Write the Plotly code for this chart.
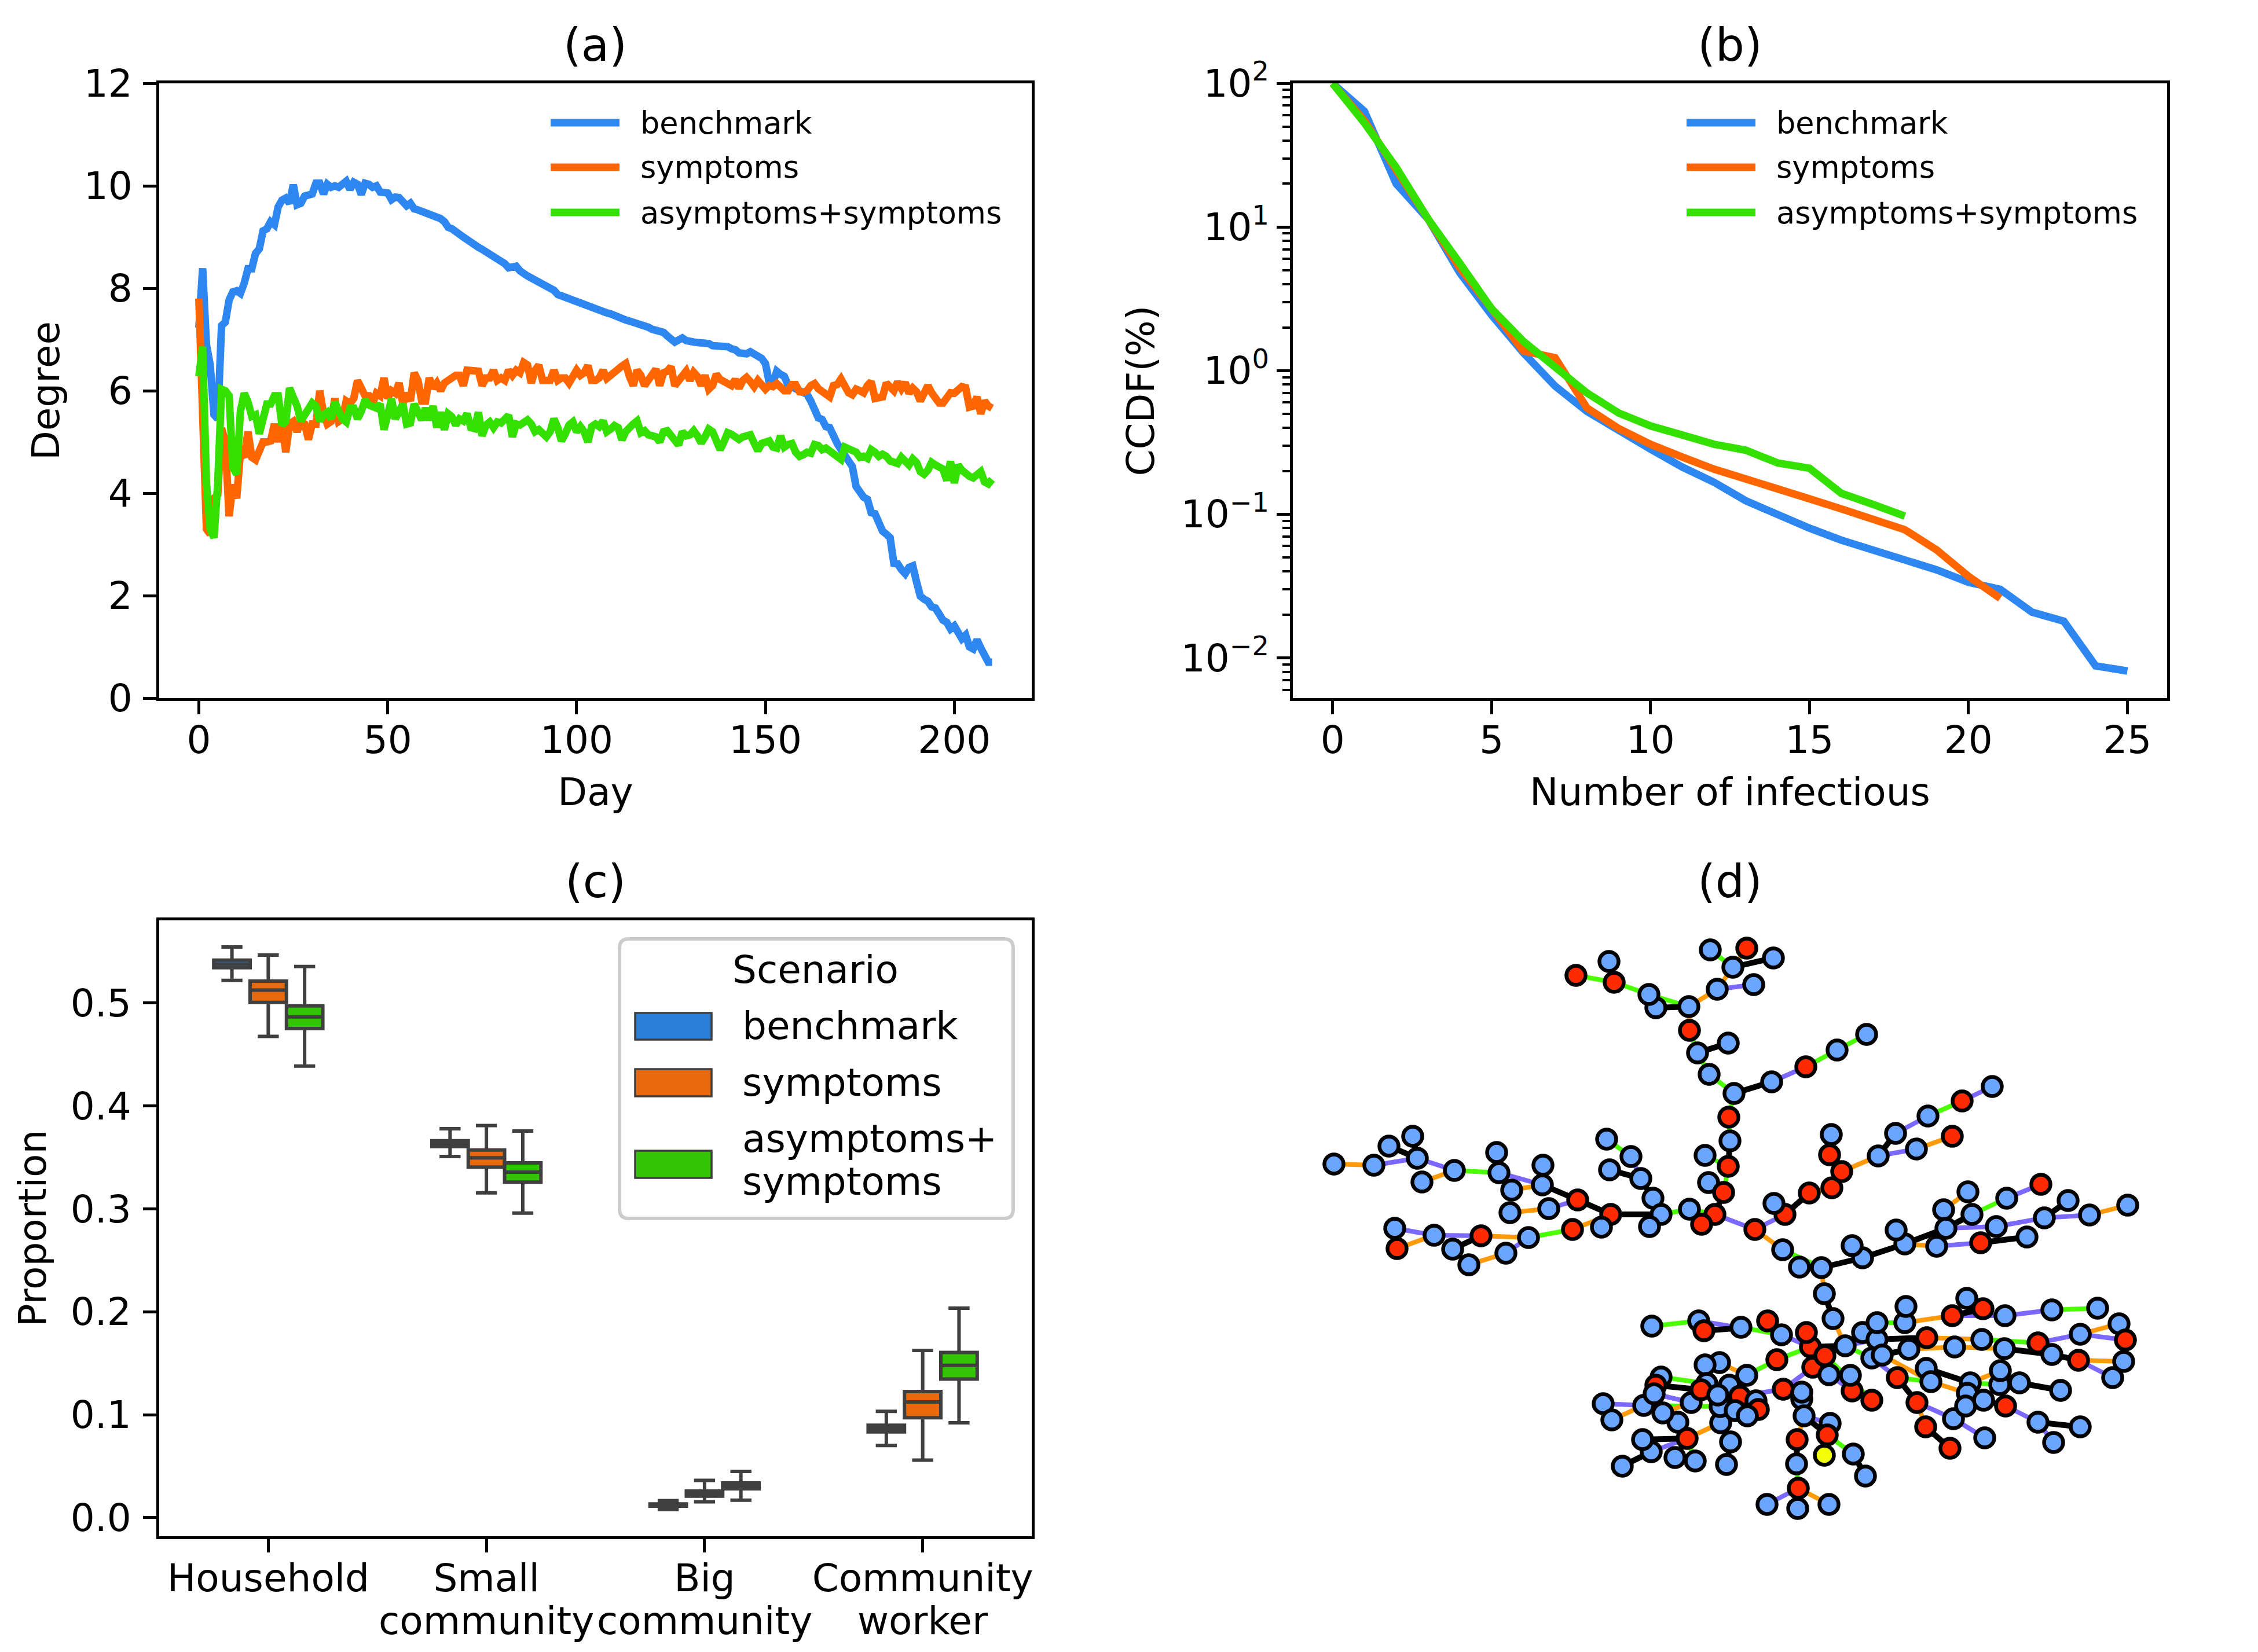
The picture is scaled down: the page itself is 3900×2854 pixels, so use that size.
import plotly.graph_objects as go

W, H = 3900, 2854
FONT = "DejaVu Sans"
names = ["benchmark", "symptoms", "asymptoms+symptoms"]
line_cols = ["#2e86f0", "#ff6600", "#33e000"]
box_cols = ["#2c7fd6", "#e8690b", "#32c405"]
dark = "#3f3f3f"

#%% panel a: degree per day
deg_bench = [7.23,8.39,6.9,6.5,5.53,5.45,7.27,7.34,7.77,7.93,
    7.95,7.9,8.1,8.38,8.38,8.68,8.77,9.12,9.16,9.3,
    9.24,9.59,9.72,9.76,9.66,10.02,9.63,9.66,9.8,9.81,
    9.84,10.05,10.05,9.84,10.03,9.97,10.0,9.97,10.03,10.09,
    9.93,10.07,10.03,9.83,10.05,10.03,9.97,10.0,9.88,9.87,
    9.86,9.73,9.78,9.77,9.66,9.61,9.66,9.55,9.53,9.5,
    9.5,9.47,9.44,9.4,9.36,9.3,9.19,9.16,9.12,9.05,
    9.0,8.95,8.89,8.87,8.8,8.76,8.72,8.68,8.64,8.6,
    8.56,8.48,8.4,8.41,8.43,8.34,8.27,8.24,8.2,8.16,
    8.12,8.08,8.03,8.02,7.96,7.88,7.85,7.83,7.8,7.78,
    7.75,7.7,7.67,7.64,7.62,7.58,7.56,7.53,7.52,7.5,
    7.46,7.44,7.42,7.38,7.36,7.34,7.31,7.29,7.27,7.24,
    7.2,7.18,7.17,7.14,7.07,7.0,6.95,6.99,7.03,6.98,
    6.95,6.95,6.94,6.94,6.95,6.92,6.88,6.88,6.89,6.89,
    6.86,6.82,6.8,6.74,6.73,6.72,6.76,6.72,6.68,6.63,
    6.53,6.16,6.15,6.38,6.32,6.28,6.11,6.07,6.03,6.0,
    5.98,5.93,5.8,5.62,5.47,5.44,5.3,5.28,5.1,4.97,
    4.85,4.75,4.63,4.52,4.13,4.0,3.92,3.88,3.62,3.6,
    3.38,3.26,3.2,3.13,2.63,2.62,2.51,2.43,2.55,2.58,
    2.27,1.99,1.93,1.89,1.78,1.76,1.64,1.52,1.48,1.35,
    1.41,1.31,1.16,1.23,1.0,0.96,1.14,0.98,0.83,0.7,0.7]
deg_sympt = [7.8,5.0,3.3,3.2,3.9,3.97,5.27,5.0,3.55,4.17,
    3.9,4.8,4.7,5.2,4.7,4.65,4.8,5.0,5.0,5.02,
    5.35,5.0,5.4,4.8,5.35,5.4,5.2,5.4,5.35,5.05,
    5.35,5.35,6.0,5.55,5.35,5.4,5.85,5.4,5.45,5.8,
    5.75,5.85,6.2,6.0,5.9,5.9,5.75,5.95,5.9,6.25,
    5.85,6.0,5.95,6.15,5.75,5.95,5.8,6.35,6.2,5.8,
    5.8,6.25,6.05,6.15,6.0,6.15,6.2,6.25,6.3,6.3,
    6.1,6.4,6.4,6.4,6.38,6.1,6.25,6.25,6.4,6.2,
    6.25,6.2,6.4,6.3,6.4,6.35,6.55,6.5,6.15,6.4,
    6.5,6.2,6.2,6.2,6.4,6.2,6.25,6.25,6.15,6.3,
    6.4,6.3,6.35,6.49,6.2,6.2,6.25,6.4,6.24,6.3,
    6.38,6.42,6.48,6.53,6.28,6.1,6.4,6.3,6.1,6.2,
    6.35,6.42,6.1,6.35,6.38,6.47,6.1,6.2,6.3,6.38,
    6.2,6.36,6.28,6.1,6.3,6.03,6.1,6.32,6.22,6.18,
    6.15,6.1,6.22,6.05,6.2,6.26,6.18,6.08,6.2,6.1,
    6.03,6.1,6.08,6.14,6.05,6.0,6.0,6.12,6.12,5.98,
    5.97,6.0,6.1,6.14,6.04,5.98,5.96,5.88,6.1,6.12,
    6.23,6.05,5.96,5.92,6.03,6.0,5.96,6.1,6.18,5.85,
    5.85,5.88,6.15,6.05,6.0,6.17,6.04,6.16,5.95,6.05,
    5.98,5.8,5.98,6.1,5.96,5.85,5.76,5.76,5.88,5.96,
    5.95,6.0,6.08,6.06,5.68,5.7,5.88,5.55,5.8,5.7,5.66]
deg_asym = [6.28,6.86,4.2,3.3,3.13,4.2,6.03,6.0,5.9,4.5,
    4.37,5.6,5.95,5.78,5.5,5.53,5.16,5.45,5.74,5.74,
    5.9,5.9,5.33,5.4,6.05,5.87,5.7,5.41,5.53,5.66,
    5.76,5.7,5.41,5.53,5.58,5.45,5.78,5.6,5.45,5.39,
    5.66,5.66,5.45,5.6,5.82,5.72,5.7,5.66,5.74,5.24,
    5.53,5.84,5.45,5.58,5.74,5.35,5.37,5.74,5.6,5.43,
    5.66,5.43,5.7,5.28,5.58,5.24,5.55,5.49,5.33,5.45,
    5.41,5.55,5.28,5.26,5.58,5.12,5.33,5.39,5.28,5.39,
    5.37,5.47,5.52,5.1,5.35,5.33,5.37,5.43,5.35,5.2,
    5.24,5.16,5.1,5.2,5.45,5.28,5.02,5.16,5.33,5.39,
    5.2,5.3,5.2,5.0,5.3,5.35,5.3,5.41,5.2,5.25,
    5.32,5.28,5.04,5.2,5.3,5.35,5.41,5.18,5.22,5.14,
    5.12,5.1,5.0,5.2,5.22,5.12,5.08,4.94,5.2,5.12,
    5.14,5.22,5.12,4.98,5.1,5.25,5.2,5.05,4.85,5.0,
    5.18,5.15,5.08,5.05,5.1,5.12,5.14,4.98,4.83,4.97,
    5.0,5.02,4.9,4.88,5.12,4.9,4.95,4.97,4.8,4.72,
    4.75,4.8,4.78,4.95,4.93,4.85,4.88,4.82,4.75,4.68,
    4.66,4.9,4.87,4.84,4.8,4.7,4.72,4.68,4.85,4.8,
    4.72,4.76,4.72,4.63,4.6,4.58,4.7,4.62,4.55,4.67,
    4.6,4.42,4.37,4.45,4.6,4.55,4.52,4.47,4.25,4.62,
    4.2,4.55,4.45,4.37,4.33,4.3,4.35,4.42,4.22,4.18,4.27]

#%% panel b: CCDF of number of infectious
ccdf_bench = [100,64,20,11.4,4.8,2.44,1.33,0.78,0.52,0.38,0.284,0.213,0.167,0.124,
    0.099,0.08,0.066,0.056,0.048,0.041,0.0336,0.03,0.0208,0.018,0.0088,0.0081]
ccdf_sympt = [100,55,25,11.4,5.2,2.7,1.37,1.23,0.55,0.395,0.307,0.25,0.206,0.176,
    0.148,0.128,0.109,0.091,0.078,0.0565,0.037,0.026]
ccdf_asym = [100,53,26,11.4,5.6,2.7,1.6,1.06,0.7,0.507,0.412,0.356,0.307,0.279,
    0.2275,0.209,0.14,0.117,0.097]

#%% panel c: proportion boxes
cats = ["Household", "Small community", "Big community", "Community worker"]
cat_line1 = ["Household", "Small", "Big", "Community"]
cat_line2 = ["", "community", "community", "worker"]
box_hi = [[0.5545,0.378,0.0166,0.1034],[0.5466,0.381,0.0363,0.1626],[0.5355,0.3757,0.045,0.2036]]
box_q3 = [[0.5417,0.3663,0.0133,0.0899],[0.5213,0.3573,0.0259,0.1226],[0.4973,0.3448,0.0338,0.1605]]
box_med = [[0.538,0.364,0.0126,0.0868],[0.5126,0.3497,0.0237,0.1125],[0.4866,0.3358,0.0312,0.148]]
box_q1 = [[0.5344,0.3607,0.0112,0.0834],[0.5007,0.3407,0.021,0.0972],[0.4753,0.3261,0.0281,0.1347]]
box_lo = [[0.522,0.351,0.008,0.0702],[0.4676,0.3157,0.0154,0.056],[0.4388,0.296,0.017,0.0923]]

#%% panel d: network
node_x = [2304,2373,2399,2440,2448,2456,2512,2585,2589,2611,
    2665,2664,2725,2675,2608,2782,2716,2766,2640,2558,
    2477,2409,2413,2509,2601,2537,2722,2779,2788,2860,
    2848,2917,2966,3029,3017,2954,2993,3063,2918,2932,
    2985,2952,2995,3060,3119,3173,3224,2986,2988,2945,
    2985,2951,2977,2775,2817,2780,2834,2855,2869,2849,
    2918,2962,2939,3031,3083,3064,3079,3108,3146,3163,
    3160,3164,3181,3125,3244,3274,3330,3389,3441,3310,
    3372,3217,3199,3290,3275,3345,3421,3501,3357,3399,
    3406,3361,3466,3525,3448,3531,3572,3609,3675,3151,
    3166,2853,2934,2943,3007,3053,3077,2970,2945,3017,
    2869,2860,2839,2857,2769,2784,2898,2872,2921,2948,
    2938,2987,3005,2972,2971,2967,2997,3033,3037,3018,
    2852,2837,2914,2893,2928,2802,2989,2982,3127,3120,
    3131,3152,3187,3069,3159,3199,3196,3233,3080,3112,
    3112,3116,3161,3156,3104,3151,3201,3222,3103,3105,
    3106,3052,3159,3217,3242,3242,3233,3251,3290,3292,
    3297,3328,3372,3397,3425,3463,3544,3623,3660,3671,
    3593,3520,3423,3376,3462,3544,3590,3668,3649,3327,
    3335,3277,3311,3326,3368,3374,3428,3403,3398,3395,
    3426,3464,3454,3455,3488,3559,3520,3593,3547]
node_y = [2011,2013,1980,1963,2001,2042,2022,1991,2026,2056,
    2013,2047,2073,2088,2095,2098,2124,2120,2138,2135,
    2134,2122,2157,2158,2165,2185,1685,1661,1697,1741,
    1718,1739,1709,1701,1638,1641,1671,1655,1780,1819,
    1802,1856,1889,1869,1843,1814,1787,1930,1971,1996,
    2015,2043,2060,1968,1998,2021,2036,2070,2098,2119,
    2089,2098,2115,2124,2098,2079,2159,2189,2190,1960,
    1995,2052,2024,2061,1997,1958,1928,1902,1877,1985,
    1963,2173,2152,2149,2125,2153,2147,2137,2090,2059,
    2098,2122,2070,2046,2119,2104,2074,2099,2082,2235,
    2278,2291,2282,2299,2293,2282,2306,2354,2358,2376,
    2379,2393,2428,2408,2425,2453,2457,2441,2423,2390,
    2401,2393,2412,2458,2430,2410,2437,2420,2435,2446,
    2508,2487,2485,2518,2524,2533,2491,2530,2327,2302,
    2362,2342,2325,2349,2375,2403,2376,2419,2400,2417,
    2405,2446,2459,2479,2487,2514,2512,2550,2529,2606,
    2571,2599,2599,2302,2314,2285,2346,2341,2285,2257,
    2331,2311,2273,2243,2261,2273,2263,2260,2287,2315,
    2305,2320,2314,2327,2330,2340,2350,2352,2380,2364,
    2387,2380,2423,2465,2502,2451,2484,2389,2407,2429,
    2419,2429,2392,2368,2389,2402,2457,2465,2492]
node_kind = ("bbbbbbbbbb" "bbrbbrrbbr" "bbrbbbrbrb" "bbbbrbbbrb" "bbbbrbbrbb"
    "rbrbbbbbbb" "brrrrbbbbb" "rrrrbbbrbb" "rbbbbbrbbb" "bbbrbbbbbb"
    "bbbrbrbbbb" "brbbbbbbbb" "rbrbbbbbrb" "bbrbbbbbrr" "rrbrbrbrrb"
    "bbbrrybbbb" "rbbbbbbbbb" "brrbrbbbbr" "brbbbbrbbb" "brrrrbbbbb" "brbbbbbbb")

edges_green = [(2512,2022,2589,2026),(2640,2138,2716,2124),(2817,1998,2775,1968),
    (2869,2098,2918,2089),(2918,2089,2962,2098),(2977,2060,2985,2015),(2945,1996,2985,2015),
    (2988,1971,2986,1930),(2986,1930,2995,1889),(2995,1889,2952,1856),(2952,1856,2932,1819),
    (2932,1819,2918,1780),(2917,1739,2848,1718),(2848,1718,2788,1697),(2788,1697,2722,1685),
    (2993,1671,2954,1641),(3119,1843,3173,1814),(3173,1814,3224,1787),(3330,1928,3389,1902),
    (3079,2159,3146,2190),(3406,2098,3466,2070),(3187,2325,3233,2346),(3242,2285,3290,2285),
    (3397,2243,3425,2261),(3544,2263,3623,2260),(3423,2314,3520,2320),(3403,2389,3454,2392),
    (3277,2380,3335,2387),(3007,2293,3077,2306),(3069,2349,3127,2327),(3016,2376,3069,2349),
    (3152,2342,3233,2419),(3080,2400,3112,2417),(3156,2479,3201,2512),(3103,2529,3106,2571),
    (2853,2291,2934,2282),(2869,2379,2948,2390),(2839,2428,2971,2430),(2914,2485,2928,2524)]
edges_orange = [(2304,2011,2373,2013),(2456,2042,2512,2022),(2611,2056,2664,2047),
    (2608,2095,2675,2088),(2716,2124,2782,2098),(2558,2135,2640,2138),(2413,2157,2477,2134),
    (2537,2185,2601,2165),(2918,1780,2917,1739),(2917,1739,2966,1709),(2966,1709,2993,1671),
    (2993,1671,3017,1638),(3125,2061,3164,2052),(3181,2024,3244,1997),(3310,1985,3372,1963),
    (3031,2124,3079,2159),(3290,2149,3345,2153),(3357,2090,3399,2059),(3609,2099,3675,2082),
    (3146,2190,3151,2235),(3166,2278,3187,2325),(3290,2285,3372,2273),(3297,2331,3376,2327),
    (3376,2327,3462,2330),(3328,2311,3423,2314),(3593,2305,3660,2287),(3590,2350,3668,2352),
    (3251,2341,3335,2387),(3335,2387,3398,2407),(3403,2389,3455,2368),(3311,2423,3326,2465),
    (3116,2446,3104,2487),(3106,2571,3159,2599),(2970,2354,3016,2376),(2784,2453,2839,2428),
    (2872,2441,2921,2423),(2914,2485,2972,2458)]
edges_purple = [(2373,2013,2448,2001),(2448,2001,2512,2022),(2589,2026,2664,2047),
    (2675,2088,2725,2073),(2477,2134,2558,2135),(2409,2122,2477,2134),(2601,2165,2640,2138),
    (2834,2036,2817,1998),(2966,1709,3029,1701),(3060,1869,3119,1843),(2962,2098,3031,2124),
    (3031,2124,3083,2098),(3274,1958,3330,1928),(3389,1902,3441,1877),(3244,1997,3310,1985),
    (3345,2153,3421,2147),(3466,2070,3525,2046),(3361,2122,3448,2119),(3448,2119,3531,2104),
    (3531,2104,3609,2099),(3187,2325,3241,2314),(3372,2273,3463,2273),(3463,2273,3544,2263),
    (3520,2320,3593,2305),(3593,2305,3671,2315),(3590,2350,3649,2380),(3233,2346,3277,2380),
    (3311,2423,3374,2451),(3374,2451,3428,2484),(3464,2429,3520,2457),(3520,2457,3547,2492),
    (3077,2306,3127,2327),(3131,2362,3080,2400),(3080,2400,3005,2412),(3159,2375,3199,2403),
    (3116,2446,3161,2459),(3106,2571,3052,2599),(2934,2282,3007,2294),(2857,2408,2921,2423),
    (2769,2425,2839,2428),(2852,2508,2914,2485)]
edges_black = [(2399,1980,2448,2001),(2440,1963,2448,2001),(2585,1991,2589,2026),(2665,2013,2664,2047),
    (2664,2047,2725,2073),(2725,2073,2782,2098),(2782,2098,2869,2098),(2782,2098,2766,2120),
    (2509,2158,2558,2135),(2869,2098,2849,2119),(2869,2098,2854,2069),(2854,2069,2834,2036),
    (2834,2036,2780,2021),(2962,2098,2977,2060),(2977,2060,2951,2043),(2985,2015,2988,1971),
    (2932,1819,2985,1802),(2917,1739,2860,1741),(2788,1697,2779,1661),(2993,1671,3063,1655),
    (2995,1889,3060,1869),(3083,2098,3064,2079),(3083,2098,3125,2061),(3164,2052,3181,2024),
    (3181,2024,3160,1995),(3160,1995,3163,1960),(3244,1997,3274,1958),(3146,2190,3217,2173),
    (3199,2152,3217,2173),(3217,2173,3290,2149),(3275,2125,3290,2149),(3290,2149,3361,2122),
    (3421,2147,3501,2137),(3361,2122,3357,2090),(3361,2122,3406,2098),(3531,2104,3572,2074),
    (3151,2235,3166,2278),(3187,2325,3127,2327),(3241,2314,3328,2311),(3372,2273,3425,2261),
    (3290,2285,3292,2257),(3251,2341,3297,2331),(3297,2331,3328,2311),(3462,2330,3544,2340),
    (3544,2340,3590,2350),(3327,2364,3403,2389),(3277,2380,3311,2423),(3326,2465,3368,2502),
    (3426,2419,3464,2429),(3520,2457,3593,2465),(3488,2389,3559,2402),(3454,2392,3488,2389),
    (3398,2407,3426,2419),(3395,2429,3426,2419),(3053,2282,3077,2306),(3127,2327,3120,2302),
    (3127,2327,3152,2342),(3152,2342,3131,2362),(3152,2342,3159,2375),(3112,2405,3112,2417),
    (3112,2417,3116,2446),(3116,2446,3156,2479),(3156,2479,3151,2514),(3104,2487,3103,2529),
    (3106,2571,3105,2606),(3201,2512,3222,2550),(2934,2282,2943,2299),(2943,2299,3007,2294),
    (2860,2393,2938,2401),(2839,2428,2857,2408),(2857,2408,2860,2393),(2860,2393,2869,2379),
    (2938,2401,2967,2410),(2914,2485,2837,2487),(2837,2487,2852,2508),(2852,2508,2802,2533),
    (2914,2485,2893,2518),(2898,2457,2914,2485),(2872,2441,2898,2457),(2967,2410,3005,2412),
    (2972,2458,2989,2491),(2989,2491,2982,2530)]
edge_cols = {"#4cff00": edges_green, "#ff9a0a": edges_orange, "#7b68ff": edges_purple, "#000000": edges_black}
kind_cols = {"b": "#6aa5ff", "r": "#ff2a00", "y": "#f2ff00"}


def px(x):
    return x / W


def py(y):
    return 1 - y / H


fig = go.Figure()
for name, col, ys in zip(names, line_cols, [deg_bench, deg_sympt, deg_asym]):
    fig.add_trace(go.Scatter(x=list(range(len(ys))), y=ys, mode="lines", name=name, showlegend=False,
                             line=dict(color=col, width=13), xaxis="x", yaxis="y"))
for name, col, ys in zip(names, line_cols, [ccdf_bench, ccdf_sympt, ccdf_asym]):
    fig.add_trace(go.Scatter(x=list(range(len(ys))), y=ys, mode="lines", name=name, showlegend=False,
                             line=dict(color=col, width=13), xaxis="x2", yaxis="y2"))
for i, name in enumerate(names):
    fig.add_trace(go.Box(x=cats, q1=box_q1[i], median=box_med[i], q3=box_q3[i], lowerfence=box_lo[i],
                         upperfence=box_hi[i], name=name, showlegend=False, fillcolor=box_cols[i],
                         line=dict(color=dark, width=6), whiskerwidth=0.58, boxpoints=False,
                         xaxis="x3", yaxis="y3"))
for col, edges in edge_cols.items():
    ex, ey = [], []
    for x1, y1, x2, y2 in edges:
        ex += [x1, x2, None]
        ey += [y1, y2, None]
    fig.add_trace(go.Scatter(x=ex, y=ey, mode="lines", showlegend=False, hoverinfo="skip",
                             line=dict(color=col, width=10 if col == "#000000" else 8), xaxis="x4", yaxis="y4"))
fig.add_trace(go.Scatter(x=node_x, y=node_y, mode="markers", showlegend=False,
                         marker=dict(size=33, color=[kind_cols[k] for k in node_kind],
                                     line=dict(color="black", width=6.5), opacity=1),
                         xaxis="x4", yaxis="y4"))

axis_style = dict(showline=True, linecolor="black", linewidth=5, mirror=True, ticks="outside",
                  ticklen=23, tickwidth=5, tickcolor="black", showgrid=False, zeroline=False,
                  automargin=False, tickfont=dict(size=66, family=FONT, color="black"))
title_font = dict(size=66, family=FONT, color="black")
minor_vals = [m * 10 ** e for e in [-3, -2, -1, 0, 1] for m in range(2, 10)]

fig.update_layout(
    width=W, height=H, paper_bgcolor="white", plot_bgcolor="white",
    margin=dict(l=0, r=0, t=0, b=0), autosize=False,
    font=dict(family=FONT, color="black"),
    boxmode="group", boxgap=0.5, boxgroupgap=0,
    xaxis=dict(axis_style, domain=[px(275), px(1782)], range=[-10.5, 220.5], anchor="y", ticklabelstandoff=-12,
               tickvals=[0, 50, 100, 150, 200], title=dict(text="Day", font=title_font, standoff=30)),
    yaxis=dict(axis_style, domain=[py(1206), py(144)], range=[0, 12], anchor="x", ticklabelstandoff=5,
               tickvals=[0, 2, 4, 6, 8, 10, 12], title=dict(text="Degree", font=title_font, standoff=22)),
    xaxis2=dict(axis_style, domain=[px(2233), px(3743)], range=[-1.25, 26.25], anchor="y2", ticklabelstandoff=-12,
                tickvals=[0, 5, 10, 15, 20, 25], title=dict(text="Number of infectious", font=title_font, standoff=30)),
    yaxis2=dict(axis_style, domain=[py(1206), py(144)], range=[-2.28, 2], type="log", anchor="x2",
                tickvals=[0.01, 0.1, 1, 10, 100],
                ticktext=["10<sup>−2</sup>", "10<sup>−1</sup>", "10<sup>0</sup>", "10<sup>1</sup>", "10<sup>2</sup>"],
                minor=dict(ticks="outside", ticklen=13, tickwidth=4, tickcolor="black", tickvals=minor_vals),
                title=dict(text="CCDF(%)", font=title_font, standoff=26)),
    xaxis3=dict(axis_style, domain=[px(275), px(1782)], type="category", categoryorder="array",
                categoryarray=cats, tickvals=cats, ticktext=cat_line1, range=[-0.5, 3.5], tickangle=0,
                anchor="y3", ticklabelstandoff=-12),
    yaxis3=dict(axis_style, domain=[py(2654), py(1590)], range=[-0.018, 0.5804], anchor="x3", ticklabelstandoff=7,
                tickvals=[0, 0.1, 0.2, 0.3, 0.4, 0.5], tickformat=".1f",
                title=dict(text="Proportion", font=title_font, standoff=22)),
    xaxis4=dict(domain=[px(2233), px(3743)], range=[2233, 3743], visible=False, anchor="y4"),
    yaxis4=dict(domain=[py(2654), py(1590)], range=[2654, 1590], visible=False, anchor="x4"),
)

# second lines of the panel c category labels, closer than <br> would put them
for cat, text in zip(cats, cat_line2):
    if text:
        fig.add_annotation(text=text, x=cat, xref="x3", y=py(2800), yref="paper", showarrow=False,
                           xanchor="center", yanchor="middle", font=dict(size=66, family=FONT, color="black"))

# panel titles
for label, cx, cy in [("(a)", 1028, 78), ("(b)", 2988, 78), ("(c)", 1028, 1523), ("(d)", 2988, 1523)]:
    fig.add_annotation(text=label, x=px(cx), y=py(cy), xref="paper", yref="paper", showarrow=False,
                       xanchor="center", yanchor="middle", font=dict(size=79, family=FONT, color="black"))

# line legends of panels a and b, frameless
for x0, x1, tx in [(951, 1070, 1104), (2913, 3032, 3066)]:
    for name, col, ly in zip(names, line_cols, [212, 289, 367]):
        fig.add_shape(type="line", xref="paper", yref="paper", x0=px(x0), x1=px(x1), y0=py(ly), y1=py(ly),
                      line=dict(color=col, width=13))
        fig.add_annotation(text=name, x=px(tx), y=py(ly), xref="paper", yref="paper", showarrow=False,
                           xanchor="left", yanchor="middle", font=dict(size=52.5, family=FONT, color="black"))

# legend of panel c, rounded frame and patches
L, R, T, B, r = px(1070), px(1750), py(1622), py(2105), 16
rx, ry = r / W, r / H
frame = (f"M{L + rx},{T} L{R - rx},{T} Q{R},{T} {R},{T - ry} L{R},{B + ry} Q{R},{B} {R - rx},{B} "
         f"L{L + rx},{B} Q{L},{B} {L},{B + ry} L{L},{T - ry} Q{L},{T} {L + rx},{T} Z")
fig.add_shape(type="path", path=frame, xref="paper", yref="paper", fillcolor="white",
              line=dict(color="#cccccc", width=6), layer="above")
for col, (y0, y1) in zip(box_cols, [(1750, 1796), (1847, 1894), (1988, 2035)]):
    fig.add_shape(type="rect", xref="paper", yref="paper", x0=px(1097), x1=px(1229), y0=py(y0), y1=py(y1),
                  fillcolor=col, line=dict(color=dark, width=3.5))
fig.add_annotation(text="Scenario", x=px(1408), y=py(1675), xref="paper", yref="paper", showarrow=False,
                   xanchor="center", yanchor="middle", font=dict(size=66, family=FONT, color="black"))
for text, ly in [("benchmark", 1772), ("symptoms", 1870), ("asymptoms+", 1967), ("symptoms", 2041)]:
    fig.add_annotation(text=text, x=px(1280), y=py(ly), xref="paper", yref="paper", showarrow=False,
                       xanchor="left", yanchor="middle", font=dict(size=66, family=FONT, color="black"))

fig.write_html("out.html", config={"displayModeBar": False}, post_script="document.body.style.margin='0';")
